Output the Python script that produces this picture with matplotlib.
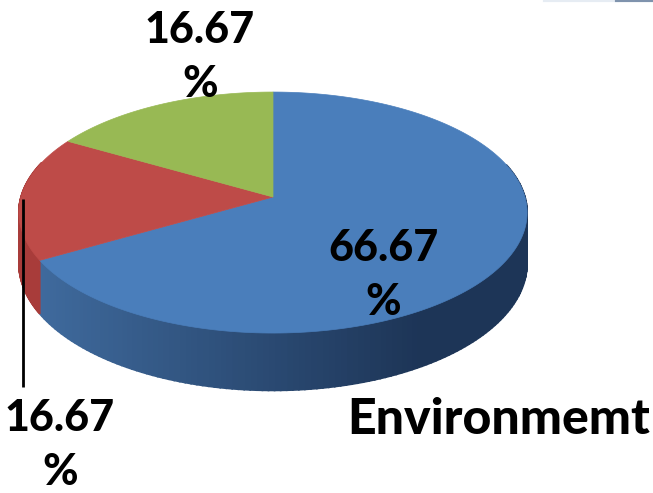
import numpy as np
import matplotlib
matplotlib.use("Agg")
import matplotlib.pyplot as plt
from matplotlib.colors import to_rgb
from matplotlib.patches import Polygon

# values in drawing order, clockwise from the top
names = ["Blue", "Red", "Green"]
values = [66.67, 16.67, 16.67]
labels = ["66.67\n%", "16.67\n%", "16.67\n%"]
title = "Environmemt"

top_colors = ["#4a7ebb", "#be4b48", "#98b954"]
wall_left = ["#3f6a9d", "#a83c3a", "#7d9a45"]
wall_right = ["#1d3557", "#8f3230", "#66803a"]

# pie geometry, in pixels of the reference
cx, cy = 273, 197
rad, sy, k = 252, 118.5, 0.129
depth = 50


def project(theta):
    u, v = np.cos(theta), np.sin(theta)
    w = 1 + k * v
    return cx + rad * u / w, cy - sy * v / w, depth / w


fig = plt.figure(figsize=(6.53, 4.93), dpi=100)
ax = fig.add_axes([0, 0, 1, 1])
ax.set_xlim(0, 653)
ax.set_ylim(493, 0)
ax.axis("off")

fracs = np.array(values) / sum(values)
edges = np.pi / 2 - 2 * np.pi * np.concatenate([[0], np.cumsum(fracs)])

# side wall first, split in thin strips to get the shading
for i in range(len(values)):
    thetas = np.linspace(edges[i], edges[i + 1], 200)
    x, y, d = project(thetas)
    c0, c1 = np.array(to_rgb(wall_left[i])), np.array(to_rgb(wall_right[i]))
    for j in range(len(thetas) - 1):
        if np.sin(thetas[j]) > 0.3:
            continue
        t = np.clip((x[j] - 40) / 380, 0, 1)
        col = c0 + (c1 - c0) * t
        quad = [(x[j], y[j]), (x[j + 1], y[j + 1]),
                (x[j + 1], y[j + 1] + d[j + 1]), (x[j], y[j] + d[j])]
        ax.add_patch(Polygon(quad, closed=True, fc=col, ec=col, lw=1.2, zorder=2))

# top face
for i in range(len(values)):
    thetas = np.linspace(edges[i], edges[i + 1], 200)
    x, y, d = project(thetas)
    pts = [(cx, cy)] + list(zip(x, y))
    ax.add_patch(Polygon(pts, closed=True, fc=top_colors[i], ec=top_colors[i], lw=0.5, zorder=3))

# leader line for the red slice
ax.plot([22.5, 22.5], [199, 387], color="black", lw=2, solid_capstyle="butt", zorder=4)
# bit of another shape cut off at the top edge
ax.plot([545, 617], [0, 0], color="#e6ecf3", lw=3, zorder=1)
ax.plot([617, 653], [0, 0], color="#7f93ad", lw=3, zorder=1)

label_pos = [(383, 275), (60, 445), (200, 57)]
for lab, (lx, ly) in zip(labels, label_pos):
    ax.text(lx, ly, lab, ha="center", va="center", fontsize=31, fontweight="black",
            family="Lato", linespacing=1.45, color="black", zorder=5)

ax.text(650, 420, title, ha="right", va="center", fontsize=36, fontweight="black",
        family="Lato", color="black", zorder=5)

fig.savefig("out.png", dpi=100)
